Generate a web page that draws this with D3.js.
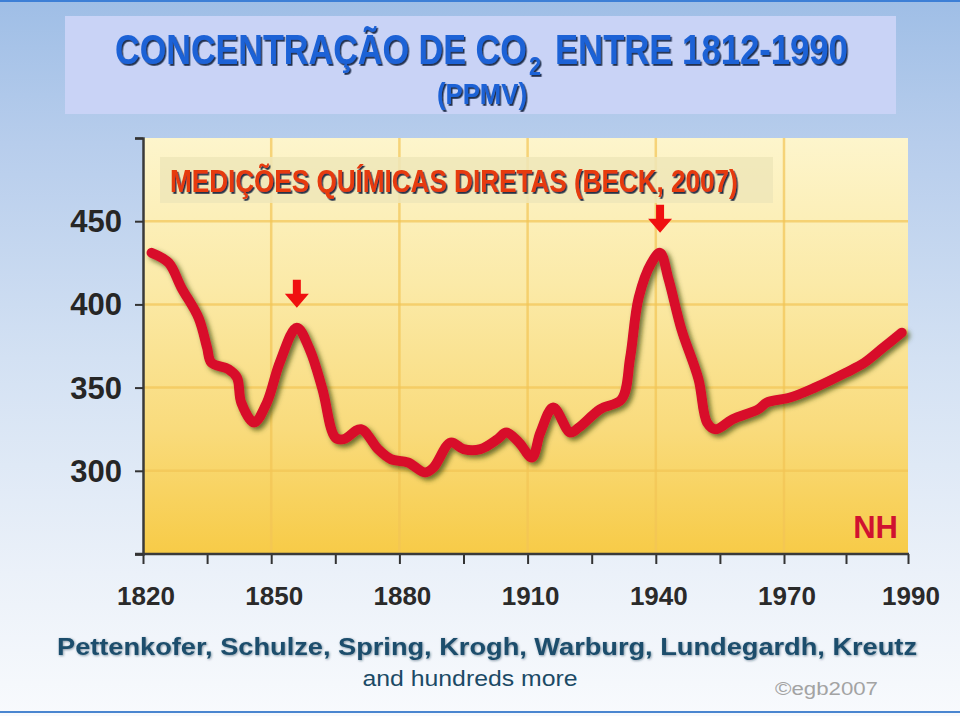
<!DOCTYPE html>
<html>
<head>
<meta charset="utf-8">
<script src="https://cdn.jsdelivr.net/npm/d3@7"></script>
<style>
  html, body { margin: 0; padding: 0; background: #fff; }
  svg { display: block; }
</style>
</head>
<body>
<div id="chart"></div>
<script>
// CO2 (ppmv), northern hemisphere
var years = [1822, 1826, 1829, 1833, 1835, 1836, 1840, 1842, 1843, 1846,
    1849, 1852, 1856, 1859, 1862, 1865, 1867, 1871, 1875, 1878, 1882, 1886,
    1888, 1892, 1895, 1899, 1903, 1905, 1908, 1911, 1913, 1916, 1920, 1922,
    1927, 1932, 1934, 1936, 1939, 1941, 1943, 1946, 1950, 1952, 1954, 1958,
    1964, 1966, 1971, 1975, 1980, 1983, 1986, 1989];
var co2Values = [431, 425, 410, 392, 374, 365, 361, 356, 341, 329,
    341, 365, 386, 373, 349, 320, 319, 325, 313, 307, 305, 299,
    302, 317, 313, 313, 319, 323, 317, 308, 323, 338, 323, 326,
    337, 343, 368, 404, 425, 431, 415, 385, 355, 329, 325, 331,
    337, 341, 344, 350, 359, 365, 374, 383];

var xTickYears = [1820, 1850, 1880, 1910, 1940, 1970, 1990];
var xMinorYears = [1835, 1865, 1895, 1925, 1955, 1980];
var yTickLabels = [300, 350, 400, 450];
var yTickMarks = [250, 300, 350, 400, 450, 500];
var arrowYears = [1856, 1941];
var arrowValues = [386, 431];

var titleMain = 'CONCENTRAÇÃO DE CO';
var titleSub = '2';
var titleRest = 'ENTRE 1812-1990';
var titleUnit = '(PPMV)';
var subtitle = 'MEDIÇÕES QUÍMICAS DIRETAS (BECK, 2007)';
var regionLabel = 'NH';
var authors = 'Pettenkofer, Schulze, Spring, Krogh, Warburg, Lundegardh, Kreutz';
var authorsMore = 'and hundreds more';
var credit = '©egb2007';

var W = 960, H = 716;
var plot = {left: 143, right: 908, top: 138, bottom: 554};
var narrow = '"Liberation Sans Narrow", "Arial Narrow", "Liberation Sans", Arial, sans-serif';
var sans = '"Liberation Sans", Arial, Helvetica, sans-serif';

var svg = d3.select('#chart').append('svg')
    .attr('width', W)
    .attr('height', H);

var defs = svg.append('defs');

var bg = defs.append('linearGradient').attr('id', 'pageBg')
    .attr('x1', 0).attr('y1', 0).attr('x2', 0).attr('y2', 1);
[['0', '#9fbee6'], ['0.2', '#b7cdec'], ['0.5', '#d3e1f3'],
 ['0.8', '#ebf1f9'], ['1', '#f8fafd']].forEach(function(s) {
  bg.append('stop').attr('offset', s[0]).attr('stop-color', s[1]);
});

var plotBg = defs.append('linearGradient').attr('id', 'plotBg')
    .attr('x1', 0).attr('y1', 0).attr('x2', 0).attr('y2', 1);
[['0', '#fdf5cc'], ['0.35', '#fbeaa8'], ['0.7', '#f9db7c'],
 ['1', '#f7cb47']].forEach(function(s) {
  plotBg.append('stop').attr('offset', s[0]).attr('stop-color', s[1]);
});

defs.append('filter').attr('id', 'lineShadow')
    .attr('x', '-10%').attr('y', '-10%').attr('width', '120%').attr('height', '120%')
  .append('feDropShadow')
    .attr('dx', 3).attr('dy', 3).attr('stdDeviation', 2.6)
    .attr('flood-color', '#3d4a12').attr('flood-opacity', 0.75);

defs.append('filter').attr('id', 'textShadow')
  .append('feDropShadow')
    .attr('dx', 1.8).attr('dy', 1.8).attr('stdDeviation', 0.4)
    .attr('flood-color', '#0d1a3a').attr('flood-opacity', 0.9);

defs.append('filter').attr('id', 'softText')
  .append('feDropShadow')
    .attr('dx', 0.8).attr('dy', 0.8).attr('stdDeviation', 0.8)
    .attr('flood-color', '#0e3348').attr('flood-opacity', 0.5);

// page
svg.append('rect').attr('width', W).attr('height', H).attr('fill', 'url(#pageBg)');
svg.append('rect').attr('x', 0).attr('y', 0).attr('width', W).attr('height', 2)
    .attr('fill', '#3d7fd6');
svg.append('rect').attr('x', 0).attr('y', 711).attr('width', W).attr('height', 2)
    .attr('fill', '#4a86d0');

// title box
svg.append('rect')
    .attr('x', 65).attr('y', 16).attr('width', 831).attr('height', 98)
    .attr('fill', '#c9d3f6');

// squeeze a text horizontally so it fills `len` pixels (condensed look)
function squeezed(parent, str, tx, ty, len, size, color) {
  var t = parent.append('text')
      .attr('x', 0).attr('y', 0)
      .attr('font-family', narrow).attr('font-stretch', 'condensed')
      .attr('font-weight', 'bold').attr('font-size', size)
      .attr('fill', color).attr('filter', 'url(#textShadow)')
      .text(str);
  var w = t.node().getComputedTextLength();
  t.attr('transform', 'translate(' + tx + ',' + ty + ') scale(' + (len / w) + ',1)');
  return t;
}
squeezed(svg, titleMain, 115, 64, 412, 42, '#1f62d6');
squeezed(svg, titleSub, 529, 75, 12, 26, '#1f62d6');
squeezed(svg, titleRest, 555, 64, 293, 42, '#1f62d6');
squeezed(svg, titleUnit, 437, 104, 90, 30, '#1f62d6');

// scales: the source axis spaces 1970-1990 like the 30-year steps
var x = d3.scaleLinear().domain([1820, 1970, 1990]).range([plot.left, 784, plot.right]);
var y = d3.scaleLinear().domain([250, 500]).range([plot.bottom, plot.top]);

var g = svg.append('g');

g.append('rect')
    .attr('x', plot.left).attr('y', plot.top)
    .attr('width', plot.right - plot.left).attr('height', plot.bottom - plot.top)
    .attr('fill', 'url(#plotBg)');

// grid
g.selectAll('line.hgrid').data(yTickLabels).enter().append('line')
    .attr('class', 'hgrid')
    .attr('x1', plot.left).attr('x2', plot.right)
    .attr('y1', function(d) { return y(d); })
    .attr('y2', function(d) { return y(d); })
    .attr('stroke', '#f2c455').attr('stroke-opacity', 0.7).attr('stroke-width', 2.5);

g.selectAll('line.vgrid').data(xTickYears.slice(1, -1)).enter().append('line')
    .attr('class', 'vgrid')
    .attr('x1', function(d) { return x(d); })
    .attr('x2', function(d) { return x(d); })
    .attr('y1', plot.top).attr('y2', plot.bottom)
    .attr('stroke', '#f2c455').attr('stroke-opacity', 0.7).attr('stroke-width', 2.5);

// subtitle box
g.append('rect')
    .attr('x', 160).attr('y', 157).attr('width', 613).attr('height', 46)
    .attr('fill', '#eee6b9').attr('fill-opacity', 0.85);

squeezed(g, subtitle, 170, 192, 568, 31, '#e63a10');

// axes
var xAxis = d3.axisBottom(x).tickValues(xTickYears.concat(xMinorYears))
    .tickSize(10).tickFormat('');
var xg = svg.append('g').attr('transform', 'translate(0,' + plot.bottom + ')').call(xAxis);
xg.select('.domain').remove();
xg.selectAll('.tick line').attr('stroke', '#333').attr('stroke-width', 2);

svg.append('line')
    .attr('x1', plot.left - 8).attr('x2', plot.right + 1)
    .attr('y1', plot.bottom).attr('y2', plot.bottom)
    .attr('stroke', '#3a3a3a').attr('stroke-width', 2.5);

var yAxis = d3.axisLeft(y).tickValues(yTickMarks).tickSize(8).tickFormat('');
var yg = svg.append('g').attr('transform', 'translate(' + plot.left + ',0)').call(yAxis);
yg.select('.domain').attr('stroke', '#3a3a3a').attr('stroke-width', 2.5);
yg.selectAll('.tick line').attr('stroke', '#333').attr('stroke-width', 2);

svg.selectAll('text.ylab').data(yTickLabels).enter().append('text')
    .attr('class', 'ylab')
    .attr('x', 122)
    .attr('y', function(d) { return y(d) + 11; })
    .attr('text-anchor', 'end')
    .attr('font-family', sans).attr('font-weight', 'bold').attr('font-size', 31)
    .attr('fill', '#262626')
    .text(function(d) { return d; });

svg.selectAll('text.xlab').data(xTickYears).enter().append('text')
    .attr('class', 'xlab')
    .attr('x', function(d) { return x(d) + 3; })
    .attr('y', 605)
    .attr('text-anchor', 'middle')
    .attr('font-family', sans).attr('font-weight', 'bold').attr('font-size', 26)
    .attr('fill', '#2a2a2a')
    .text(function(d) { return d; });

// curve
var line = d3.line()
    .x(function(d, i) { return x(years[i]); })
    .y(function(d) { return y(d); })
    .curve(d3.curveCatmullRom.alpha(0.5));

g.append('path')
    .datum(co2Values)
    .attr('d', line)
    .attr('fill', 'none')
    .attr('stroke', '#d8102c')
    .attr('stroke-width', 10)
    .attr('stroke-linejoin', 'round')
    .attr('stroke-linecap', 'round')
    .attr('filter', 'url(#lineShadow)');

// arrows pointing at the two peaks
var arrowPath = 'M-4,-28 L4,-28 L4,-14 L12,-14 L0,0 L-12,-14 L-4,-14 Z';
g.selectAll('path.arrow').data(arrowYears).enter().append('path')
    .attr('class', 'arrow')
    .attr('d', arrowPath)
    .attr('transform', function(d, i) {
      return 'translate(' + x(d) + ',' + (y(arrowValues[i]) - 20) + ')';
    })
    .attr('fill', '#f01010');

g.append('text')
    .attr('x', 898).attr('y', 538).attr('text-anchor', 'end')
    .attr('font-family', sans).attr('font-weight', 'bold').attr('font-size', 31)
    .attr('fill', '#d01230')
    .text(regionLabel);

// footer
svg.append('text')
    .attr('x', 57).attr('y', 655)
    .attr('textLength', 860).attr('lengthAdjust', 'spacingAndGlyphs')
    .attr('font-family', sans).attr('font-weight', 'bold').attr('font-size', 24)
    .attr('fill', '#1c4e6c').attr('filter', 'url(#softText)')
    .text(authors);

svg.append('text')
    .attr('x', 470).attr('y', 686).attr('text-anchor', 'middle')
    .attr('textLength', 215).attr('lengthAdjust', 'spacingAndGlyphs')
    .attr('font-family', sans).attr('font-size', 22)
    .attr('fill', '#1b4a66')
    .text(authorsMore);

svg.append('text')
    .attr('x', 775).attr('y', 695)
    .attr('textLength', 103).attr('lengthAdjust', 'spacingAndGlyphs')
    .attr('font-family', sans).attr('font-size', 18)
    .attr('fill', '#a3a3a3')
    .text(credit);
</script>
</body>
</html>
